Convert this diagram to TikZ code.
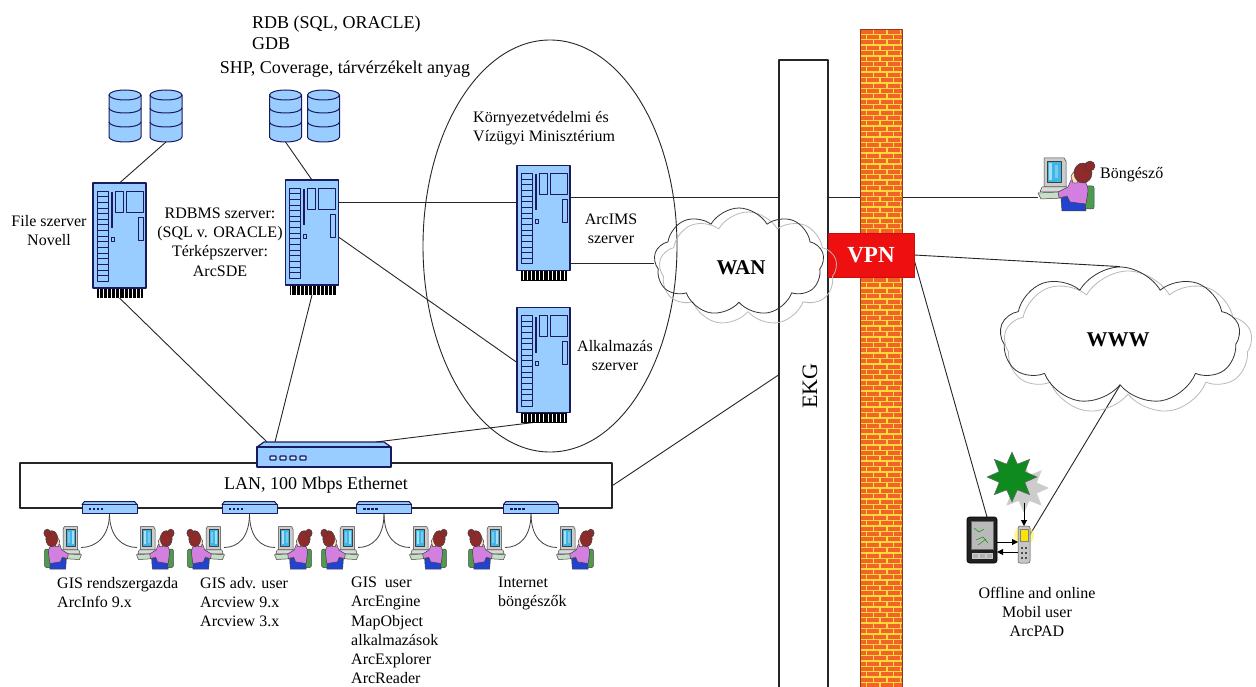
\documentclass[tikz,border=0pt]{standalone}
\usepackage{fontspec}
\setmainfont{Liberation Serif}
\usetikzlibrary{shapes.geometric,shapes.symbols,arrows.meta,calc}

\definecolor{srvblue}{HTML}{99CCFF}
\definecolor{navy}{HTML}{1A1A5E}
\definecolor{brick}{HTML}{F0642A}
\definecolor{mortar}{HTML}{FFD83A}
\definecolor{vpnred}{HTML}{EE1010}
\definecolor{hair}{HTML}{8E2A2A}
\definecolor{shirt}{HTML}{D27FE0}
\definecolor{chair}{HTML}{4E9A4E}
\definecolor{pants}{HTML}{2342D0}
\definecolor{screen}{HTML}{3FB6E8}
\definecolor{palmgreen}{HTML}{0F8A1E}

\newcommand{\txtsize}[2]{\fontsize{#1}{#2}\selectfont}

\pgfdeclarelayer{bgfill}
\pgfdeclarelayer{wires}
\pgfsetlayers{bgfill,wires,main}

\tikzset{
  spot/.style={inner sep=0, outer sep=0, draw=none},
  link/.style={draw=black!85, line width=0.9},
  cable/.style={draw=black!75, line width=0.8},
  arr/.style={draw=black, line width=1, -{Triangle[length=6pt,width=6pt]}},
  lbl/.style={inner sep=0, align=center, font=\txtsize{16}{19.2}},
  lblbig/.style={inner sep=0, align=left, font=\txtsize{18}{21}},
  bigtxt/.style={inner sep=0, font=\bfseries\txtsize{21}{25}},
  cloudshape/.style={cloud, cloud puffs=9, cloud puff arc=120, cloud ignores aspect,
    inner sep=0, line width=0.8},
  % rack server with its ventilation grille below
  server/.pic={
    \node[spot, minimum width=53, minimum height=115] (-n) at (0,0) {};
    \begin{scope}[shift={(-26.5,-57.5)}]
      \fill[black] (4,103) rectangle (50,115);
      \foreach \i in {0,...,10}
        \draw[white, line width=0.7] ({6.3+\i*4.1},106) -- ({6.3+\i*4.1},114.5);
      \filldraw[fill=srvblue, draw=navy, line width=1.2] (0,0) rectangle (53,105);
      \foreach \i in {0,...,15}
        \draw[navy, line width=0.8, fill=srvblue] (4,{8+\i*5.65}) rectangle (15,{13.65+\i*5.65});
      \fill[navy] (17.5,9) rectangle (19.5,45);
      \draw[navy, line width=0.9] (22,8) rectangle (30,29);
      \draw[navy, line width=0.9] (33,8) rectangle (50,29);
      \draw[navy, line width=0.9] (45,34) rectangle (50,57);
      \draw[navy, line width=0.8] (18,54) rectangle (21,58);
    \end{scope}
  },
  % database drum
  dbcyl/.pic={
    \node[spot, minimum width=32, minimum height=52] (-n) at (0,0) {};
    \filldraw[fill=srvblue, draw=navy, line width=1]
      (-16,-21) -- (-16,21) arc[start angle=180, end angle=0, x radius=16, y radius=5]
      -- (16,-21) arc[start angle=0, end angle=-180, x radius=16, y radius=5] -- cycle;
    \foreach \yy in {-21,-8,6}
      \draw[navy, line width=1] (-16,\yy) arc[start angle=180, end angle=0, x radius=16, y radius=5];
  },
  % central hub
  hubdev/.pic={
    \node[spot, minimum width=134, minimum height=25] (-n) at (0,-2.5) {};
    \filldraw[fill=srvblue, draw=navy, line width=1.2] (-67,-10) -- (-60,-15) -- (60,-15) -- (67,-10) -- cycle;
    \filldraw[fill=srvblue, draw=navy, line width=1.2] (-67,-10) rectangle (67,10);
    \foreach \i in {0,...,3}
      \filldraw[fill=srvblue!50!white, draw=navy, line width=1.3, rounded corners=0.8]
        ({-54+\i*10},-1) rectangle ({-48+\i*10},3);
  },
  % small workgroup switch
  switchdev/.pic={
    \node[spot, minimum width=55, minimum height=12] (-n) at (0,0) {};
    \filldraw[fill=srvblue, draw=navy, line width=1] (-27.5,-3) -- (-25,-6) -- (25,-6) -- (27.5,-3) -- cycle;
    \filldraw[fill=srvblue, draw=navy, line width=1] (-27.5,-3) rectangle (27.5,6);
    \foreach \i in {0,...,3}
      \fill[navy] ({-21+\i*4},0) rectangle ({-18.5+\i*4},2);
  },
  % person at a workstation (monitor on the left)
  deskuser/.pic={
    \begin{scope}[shift={(-28,-27)}, draw=black!75, line width=0.5]
      \filldraw[fill=gray!40] (6,1) -- (26,1) -- (28,4) -- (28,30) -- (6,30) -- cycle;
      \filldraw[fill=screen] (9,4) rectangle (23,25);
      \fill[white!55!screen] (11,6) rectangle (14,23);
      \fill[white!30!screen] (17,8) rectangle (20,21);
      \filldraw[fill=gray!30] (4,30) -- (29,30) -- (31,35) -- (2,35) -- cycle;
      \filldraw[fill=green!25!gray!35] (0,36) -- (21,35) -- (25,41) -- (3,42) -- cycle;
      \filldraw[fill=chair, rounded corners=2] (40,29) rectangle (56,52);
      \filldraw[fill=pants] (23,42) .. controls (30,37) and (42,39) .. (47,45) -- (48,54) -- (24,54) -- cycle;
      \filldraw[fill=shirt] (33,23) .. controls (42,19) and (50,24) .. (50,34) -- (48,47)
        -- (32,45) -- (29,39) -- (21,41) -- (20,35) -- (30,30) -- cycle;
      \filldraw[fill=orange!25] (37,13) -- (40,26) -- (35,26) -- (33,19) -- cycle;
      \filldraw[fill=hair] (45,16) ellipse [x radius=9, y radius=10];
      \filldraw[fill=hair] (52,9) circle [radius=5];
    \end{scope}
  },
  % handheld computer
  pda/.pic={
    \node[spot, minimum width=30, minimum height=46] (-n) at (0,0) {};
    \filldraw[fill=gray!25!black, draw=black, rounded corners=2.5, line width=0.6] (-15,-23) rectangle (15,23);
    \filldraw[fill=gray!55, draw=gray!80!black, line width=0.4] (-11,-19) rectangle (11,9);
    \draw[green!60!black, line width=0.5] (-8,-12) -- (-3,-8) -- (2,-11) (-6,0) -- (1,-3) -- (6,3) (-4,5) -- (4,-1);
    \foreach \xx in {-10,-3,4}
      \filldraw[fill=gray!60, draw=gray!40, line width=0.4] (\xx,13) rectangle ++(6,5);
  },
  % GPS / phone unit
  phone/.pic={
    \node[spot, minimum width=12, minimum height=37] (-n) at (0,0) {};
    \fill[yellow!70, opacity=0.6] (0,-9) circle [radius=10];
    \filldraw[fill=gray!45, draw=black!70, rounded corners=2, line width=0.5] (-6,-18.5) rectangle (6,18.5);
    \filldraw[fill=yellow!85!orange, draw=black!50, line width=0.4] (-4,-15) rectangle (4,-3);
    \foreach \yy in {2,7,12}
      \foreach \xx in {-3,1}
        \fill[gray!60!black] (\xx,\yy) rectangle ++(2,2);
  }
}

\begin{document}
\begin{tikzpicture}[x=1pt, y=-1pt, line join=round]
\begin{pgfonlayer}{bgfill}
  \fill[white] (0,0) rectangle (1256,687);
\end{pgfonlayer}
\useasboundingbox (0,0) rectangle (1256,687);

% ---------- storage notes
\node[lblbig, anchor=north west] (dbnote) at (252,15.5) {RDB (SQL, ORACLE)\\GDB};
\node[lblbig] (dbnote2) at (345,69) {SHP, Coverage, tárvérzékelt anyag};

% ---------- ministry boundary
\node[ellipse, draw=black!85, line width=0.9, minimum width=254, minimum height=412, inner sep=0] (kvvm) at (550,246) {};
\node[lbl, align=left, anchor=west] (kvvmtxt) at (473,128) {Környezetvédelmi és\\Vízügyi Minisztérium};

% ---------- databases
\pic (db1) at (125,116) {dbcyl};
\pic (db2) at (166,116) {dbcyl};
\pic (db3) at (285.5,116) {dbcyl};
\pic (db4) at (323.5,116) {dbcyl};

% ---------- servers
\pic (fs) at (119.5,240.5) {server};
\pic (rdb) at (312,237.5) {server};
\pic (ims) at (543.5,223) {server};
\pic (alk) at (543.5,365) {server};

\node[lbl] (fstxt) at (49,230.5) {File szerver\\Novell};
\node[lbl] (rdbtxt) at (220,242) {RDBMS szerver:\\(SQL v. ORACLE)\\Térképszerver:\\ArcSDE};
\node[lbl] (imstxt) at (611,228.5) {ArcIMS\\szerver};
\node[lbl] (alktxt) at (615,355.5) {Alkalmazás\\szerver};

% ---------- LAN
\node[draw=black!85, line width=1.1, fill=white, minimum width=592, minimum height=45, inner sep=0,
  font=\txtsize{18}{21}] (lan) at (316,485.5) {LAN, 100 Mbps Ethernet};
\pic (hub) at (324,457) {hubdev};
\pic (sw1) at (109.5,507.5) {switchdev};
\pic (sw2) at (249.5,507.5) {switchdev};
\pic (sw3) at (384,507.5) {switchdev};
\pic (sw4) at (531,507.5) {switchdev};

% ---------- workstations
\foreach \nm/\xx/\sx in {u1a/63/-0.66, u1b/155/0.66, u2a/206/-0.66, u2b/293/0.66,
                         u3a/340/-0.66, u3b/428/0.66, u4a/487/-0.66, u4b/575/0.66} {
  \node[spot, minimum width=36, minimum height=43] (\nm) at (\xx,547.5) {};
  \pic[xscale=\sx, yscale=0.8] at (\nm) {deskuser};
}

\node[lbl, align=left, anchor=north west] (g1) at (57,577) {GIS rendszergazda\\ArcInfo 9.x};
\node[lbl, align=left, anchor=north west] (g2) at (200,577) {GIS adv. user\\Arcview 9.x\\Arcview 3.x};
\node[lbl, align=left, anchor=north west] (g3) at (351,577) {GIS~ user\\ArcEngine\\MapObject\\alkalmazások\\ArcExplorer\\ArcReader};
\node[lbl, align=left, anchor=north west] (g4) at (498,577) {Internet\\böngészők};

% ---------- EKG backbone
\node[draw=black!85, line width=1.1, fill=white, minimum width=49, minimum height=640, inner sep=0] (ekg) at (803.5,380) {};
\node[rotate=90, inner sep=0, font=\txtsize{22}{26}] (ekgtxt) at (810,386) {EKG};

% ---------- firewall
\begin{scope}
  \clip (860,29) rectangle (902,700);
  \fill[mortar] (860,29) rectangle (902,700);
  \foreach \r in {0,...,124} {
    \pgfmathsetmacro{\yy}{29.7+\r*5.4}
    \pgfmathsetmacro{\off}{mod(\r,2)*6.7}
    \foreach \c in {-1,...,3}
      \fill[brick] ({860.7+\c*13.4+\off},\yy) rectangle ++(12,4);
  }
\end{scope}
\draw[draw=brick!60!black, line width=0.8] (860,700) -- (860,29) -- (902,29) -- (902,700);

\node[fill=vpnred, draw=vpnred!85!black, minimum width=86, minimum height=44, inner sep=0,
  text=white, font=\bfseries\txtsize{23}{26}] (vpn) at (871,255) {VPN};

% ---------- clouds
\node[cloudshape, draw=gray!55, minimum width=178, minimum height=114] (wanshade) at (748,269) {};
\node[cloudshape, draw=black!80, minimum width=170, minimum height=108] (wan) at (739,262) {};
\node[bigtxt] (wantxt) at (741,268) {WAN};

\node[cloudshape, draw=gray!55, minimum width=248, minimum height=144] (wwwshade) at (1128,343) {};
\node[cloudshape, draw=black!80, minimum width=240, minimum height=138] (www) at (1120,336) {};
\node[bigtxt] (wwwtxt) at (1118,340) {WWW};

% ---------- remote browser
\node[spot, minimum width=56, minimum height=54] (bong) at (1066,184) {};
\pic at (bong) {deskuser};
\node[lbl, anchor=west] (bongtxt) at (1100,174.5) {Böngésző};

% ---------- mobile user
\node[star, star points=8, star point ratio=1.8, fill=gray!40, minimum size=50, inner sep=0] (palmshade) at (1024,488) {};
\node[star, star points=8, star point ratio=1.8, fill=palmgreen, draw=black!60, line width=0.5,
  minimum size=50, inner sep=0] (palm) at (1012,477) {};
\pic (pda) at (982,540) {pda};
\pic (phone) at (1024,544.5) {phone};
\draw[arr] (palm.south -| phone-n.north) -- (phone-n.north);
\coordinate (pdaR) at ([yshift=-2pt]pda-n.east);
\coordinate (pdaL) at ([yshift=-12pt]pda-n.east);
\draw[arr] (pdaR) -- (pdaR -| phone-n.west);
\draw[arr] (pdaL -| phone-n.west) -- (pdaL);
\node[lbl] (mobtxt) at (1037,612) {Offline and online\\Mobil user\\ArcPAD};

% ---------- connections
\begin{pgfonlayer}{wires}
  \draw[link] (db2-n.south) -- (fs-n.north);
  \draw[link] (db3-n.south) -- (rdb-n.north);
  \coordinate (rdbA) at ([yshift=-22pt]rdb-n.north east);
  \draw[link] (rdbA) -- (rdbA -| ims-n.west);
  \draw[link] ([yshift=-57pt]rdb-n.north east) -- ([yshift=-55pt]alk-n.north west);
  \draw[link] (fs-n.south) -- ([xshift=10pt]hub-n.north west);
  \draw[link] (rdb-n.south) -- ([xshift=18pt]hub-n.north west);
  \draw[link] ([xshift=-10pt]alk-n.south) -- ([xshift=-15pt]hub-n.north east);
  \coordinate (imsA) at ([yshift=-32pt]ims-n.north east);
  \draw[link] (imsA) -- (imsA -| bong.west);
  \coordinate (imsB) at ([yshift=-98pt]ims-n.north east);
  \draw[link] (imsB) -- (imsB -| wan.west);
  \draw[link] (lan.east) -- ([yshift=5pt]ekg.west);
  \draw[link] (vpn.east) -- (www.north);
  \draw[link] ([yshift=-5pt]vpn.east) -- ([xshift=-10pt]pda-n.north east);
  \draw[link] (www.south) -- (phone-n.center);
  \foreach \s/\l/\r in {sw1/u1a/u1b, sw2/u2a/u2b, sw3/u3a/u3b, sw4/u4a/u4b} {
    \draw[cable] (\s-n.south) .. controls +(0,24) and +(14,0) .. (\l.east);
    \draw[cable] (\s-n.south) .. controls +(0,24) and +(-14,0) .. (\r.west);
  }
\end{pgfonlayer}
\end{tikzpicture}
\end{document}
